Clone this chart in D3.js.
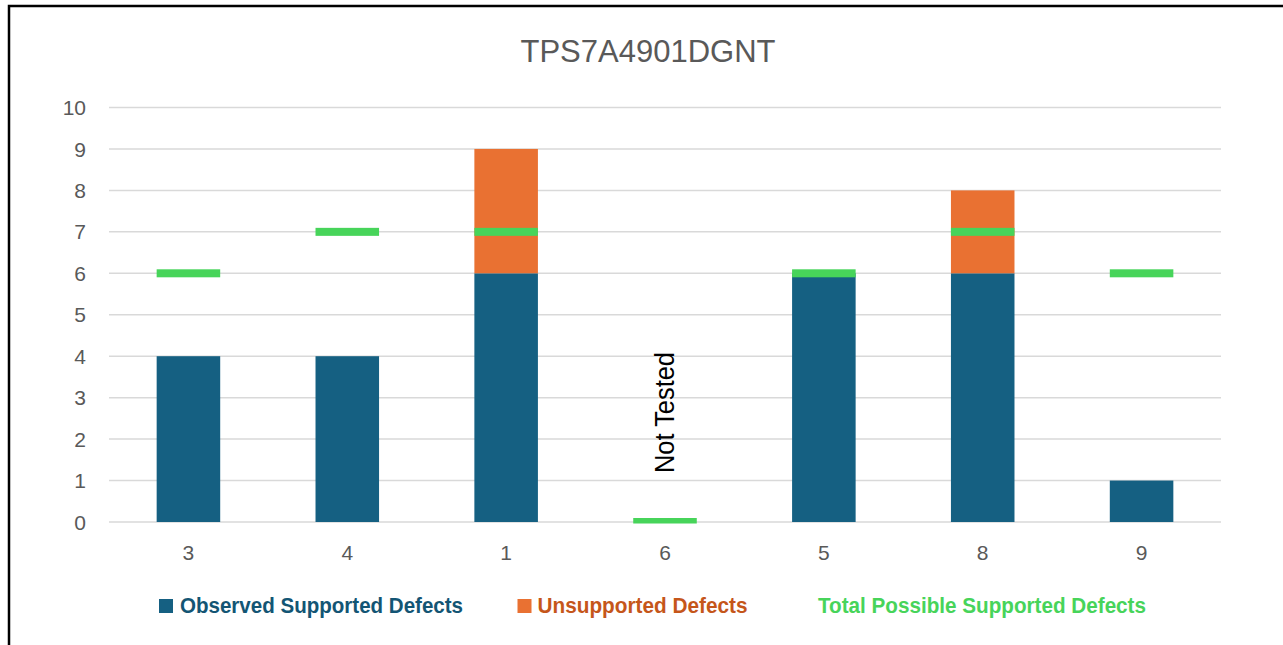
<!DOCTYPE html>
<html>
<head>
<meta charset="utf-8">
<script src="https://cdn.jsdelivr.net/npm/d3@7"></script>
<style>
  body { margin: 0; background: #fff; }
  svg { display: block; font-family: "Liberation Sans", Arial, sans-serif; }
</style>
</head>
<body>
<div id="chart"></div>
<script>
const categories = ["3", "4", "1", "6", "5", "8", "9"];
const observed = [4, 4, 6, 0, 6, 6, 1];
const unsupported = [0, 0, 3, 0, 0, 2, 0];
const totalPossible = [6, 7, 7, 0, 6, 7, 6];
const yTicks = [0, 1, 2, 3, 4, 5, 6, 7, 8, 9, 10];
const notTested = ["6"];

const width = 1283;
const height = 645;

const blue = "#156082";
const orange = "#E97132";
const green = "#47D45A";

const x = d3.scaleBand()
    .domain(categories)
    .range([109, 1221])
    .paddingInner(0.6)
    .paddingOuter(0.3);

const y = d3.scaleLinear()
    .domain([0, 10])
    .range([522, 107.5]);

const svg = d3.select("#chart").append("svg")
    .attr("width", width)
    .attr("height", height);

// frame (only left and top visible in the shot)
svg.append("rect")
    .attr("x", 9).attr("y", 6)
    .attr("width", 1400).attr("height", 800)
    .attr("fill", "none")
    .attr("stroke", "#000")
    .attr("stroke-width", 2.5);

svg.append("text")
    .attr("x", 648).attr("y", 62)
    .attr("text-anchor", "middle")
    .attr("fill", "#595959")
    .style("font-size", "31px")
    .text("TPS7A4901DGNT");

// gridlines
svg.append("g")
    .selectAll("line")
    .data(yTicks)
    .join("line")
    .attr("x1", 109).attr("x2", 1221)
    .attr("y1", d => y(d)).attr("y2", d => y(d))
    .attr("stroke", "#d9d9d9")
    .attr("stroke-width", 1.5);

// y labels
svg.append("g")
    .selectAll("text")
    .data(yTicks)
    .join("text")
    .attr("x", 86)
    .attr("y", d => y(d))
    .attr("dy", "0.36em")
    .attr("text-anchor", "end")
    .attr("fill", "#595959")
    .style("font-size", "21px")
    .text(d => d);

// x labels
svg.append("g")
    .selectAll("text")
    .data(categories)
    .join("text")
    .attr("x", d => x(d) + x.bandwidth() / 2)
    .attr("y", 560)
    .attr("text-anchor", "middle")
    .attr("fill", "#595959")
    .style("font-size", "21px")
    .text(d => d);

// stacked bars
const rows = categories.map((c, i) => ({ cat: c, obs: observed[i], uns: unsupported[i], total: totalPossible[i] }));

svg.append("g")
    .selectAll("rect")
    .data(rows.filter(d => d.obs > 0))
    .join("rect")
    .attr("x", d => x(d.cat))
    .attr("width", x.bandwidth())
    .attr("y", d => y(d.obs))
    .attr("height", d => y(0) - y(d.obs))
    .attr("fill", blue);

svg.append("g")
    .selectAll("rect")
    .data(rows.filter(d => d.uns > 0))
    .join("rect")
    .attr("x", d => x(d.cat))
    .attr("width", x.bandwidth())
    .attr("y", d => y(d.obs + d.uns))
    .attr("height", d => y(d.obs) - y(d.obs + d.uns))
    .attr("fill", orange);

// total possible markers (dash), clipped at the axis
svg.append("clipPath").attr("id", "plot")
    .append("rect")
    .attr("x", 100).attr("y", 90)
    .attr("width", 1130).attr("height", y(0) - 90 + 1.5);

svg.append("g")
    .attr("clip-path", "url(#plot)")
    .selectAll("rect")
    .data(rows)
    .join("rect")
    .attr("x", d => x(d.cat))
    .attr("width", x.bandwidth())
    .attr("y", d => y(d.total) - 4)
    .attr("height", 8)
    .attr("fill", green);

// "Not Tested" label
svg.append("g")
    .selectAll("text")
    .data(notTested)
    .join("text")
    .attr("transform", d => `translate(${x(d) + x.bandwidth() / 2},${y(0) - 49}) rotate(-90)`)
    .attr("y", 9)
    .attr("text-anchor", "start")
    .attr("fill", "#000")
    .style("font-size", "27px")
    .attr("textLength", 121)
    .attr("lengthAdjust", "spacingAndGlyphs")
    .text("Not Tested");

// legend
const legendItems = [
    { label: "Observed Supported Defects", color: blue, text: "#135574", sq: 159, tx: 180, w: 283 },
    { label: "Unsupported Defects", color: orange, text: "#C5561A", sq: 517.5, tx: 537.5, w: 210 },
    { label: "Total Possible Supported Defects", color: null, text: green, sq: null, tx: 818, w: 328 }
];

const lg = svg.append("g").selectAll("g").data(legendItems).join("g");
lg.filter(d => d.color)
    .append("rect")
    .attr("x", d => d.sq).attr("y", 599)
    .attr("width", 14).attr("height", 14)
    .attr("fill", d => d.color);
lg.append("text")
    .attr("x", d => d.tx).attr("y", 613)
    .attr("fill", d => d.text)
    .style("font-size", "22px")
    .style("font-weight", "bold")
    .attr("textLength", d => d.w)
    .attr("lengthAdjust", "spacingAndGlyphs")
    .text(d => d.label);
</script>
</body>
</html>
